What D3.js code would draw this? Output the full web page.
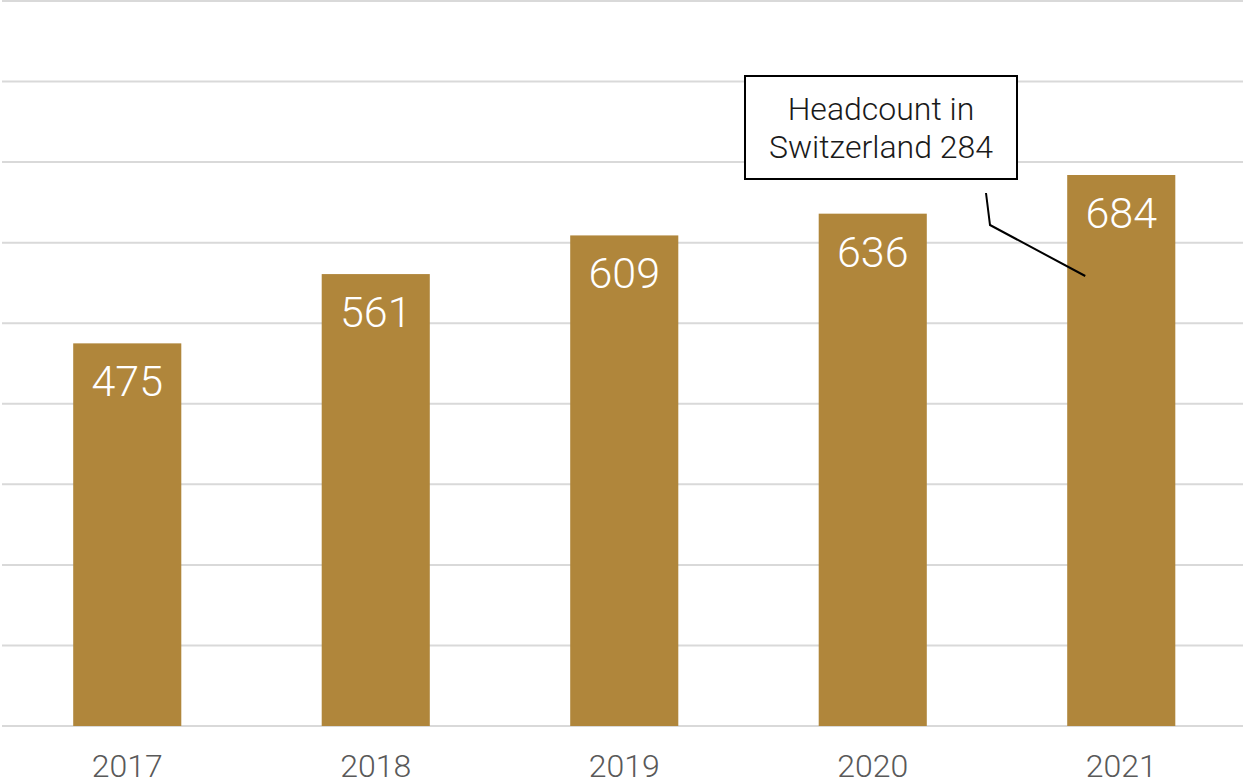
<!DOCTYPE html>
<html>
<head>
<meta charset="utf-8">
<script src="https://cdn.jsdelivr.net/npm/d3@7"></script>
<style>
  html, body { margin: 0; padding: 0; background: #fff; }
  svg { display: block; font-family: Roboto, "Noto Sans", sans-serif; }
</style>
</head>
<body>
<svg id="chart" width="1243" height="784"></svg>
<script>
// Headcount by year
const years = ["2017", "2018", "2019", "2020", "2021"];
const headcount = [475, 561, 609, 636, 684];
const gridTicks = [0, 100, 200, 300, 400, 500, 600, 700, 800, 900];
const calloutLines = ["Headcount in", "Switzerland 284"];

const svg = d3.select("#chart");
const W = 1243;

const x = d3.scaleBand().domain(years).range([3, 1245.5]).paddingInner(0.565).paddingOuter(0.2825);
const y = d3.scaleLinear().domain([0, 900]).range([726, 1]);

// horizontal gridlines
svg.append("g")
  .selectAll("line")
  .data(gridTicks)
  .join("line")
  .attr("x1", 2).attr("x2", W)
  .attr("y1", d => y(d)).attr("y2", d => y(d))
  .attr("stroke", "#d9d9d9")
  .attr("stroke-width", 2);

// bars
svg.append("g")
  .selectAll("rect")
  .data(years)
  .join("rect")
  .attr("x", d => x(d))
  .attr("width", x.bandwidth())
  .attr("y", (d, i) => y(headcount[i]))
  .attr("height", (d, i) => y(0) - y(headcount[i]))
  .attr("fill", "#b0863b");

// value labels inside bars
svg.append("g")
  .selectAll("text")
  .data(years)
  .join("text")
  .attr("x", d => x(d) + x.bandwidth() / 2)
  .attr("y", (d, i) => y(headcount[i]) + 53)
  .attr("text-anchor", "middle")
  .attr("fill", "#ffffff")
  .attr("font-size", 43)
  .attr("font-weight", 300)
  .text((d, i) => headcount[i]);

// category axis
const xAxis = svg.append("g")
  .attr("transform", `translate(0, ${y(0)})`)
  .call(d3.axisBottom(x).tickSize(0).tickPadding(0));
xAxis.select(".domain").remove();
xAxis.selectAll("text")
  .attr("dy", 0)
  .attr("y", 51)
  .attr("fill", "#595959")
  .attr("font-size", 32)
  .attr("font-weight", 300)
  .attr("font-family", "Roboto, sans-serif");

// callout for 2021
const cx = x("2021") + x.bandwidth() / 2;
const callout = svg.append("g");
callout.append("path")
  .attr("d", d3.line()([[986, 193], [990, 225], [cx - 36, y(headcount[4]) + 101]]))
  .attr("fill", "none")
  .attr("stroke", "#000")
  .attr("stroke-width", 2);
callout.append("rect")
  .attr("x", 745).attr("y", 76)
  .attr("width", 272).attr("height", 103)
  .attr("fill", "#fff")
  .attr("stroke", "#000")
  .attr("stroke-width", 2);
callout.append("g")
  .selectAll("text")
  .data(calloutLines)
  .join("text")
  .attr("x", 881)
  .attr("y", (d, i) => 120 + i * 38)
  .attr("text-anchor", "middle")
  .attr("fill", "#1a1a1a")
  .attr("font-size", 32)
  .attr("font-weight", 300)
  .text(d => d);
</script>
</body>
</html>
